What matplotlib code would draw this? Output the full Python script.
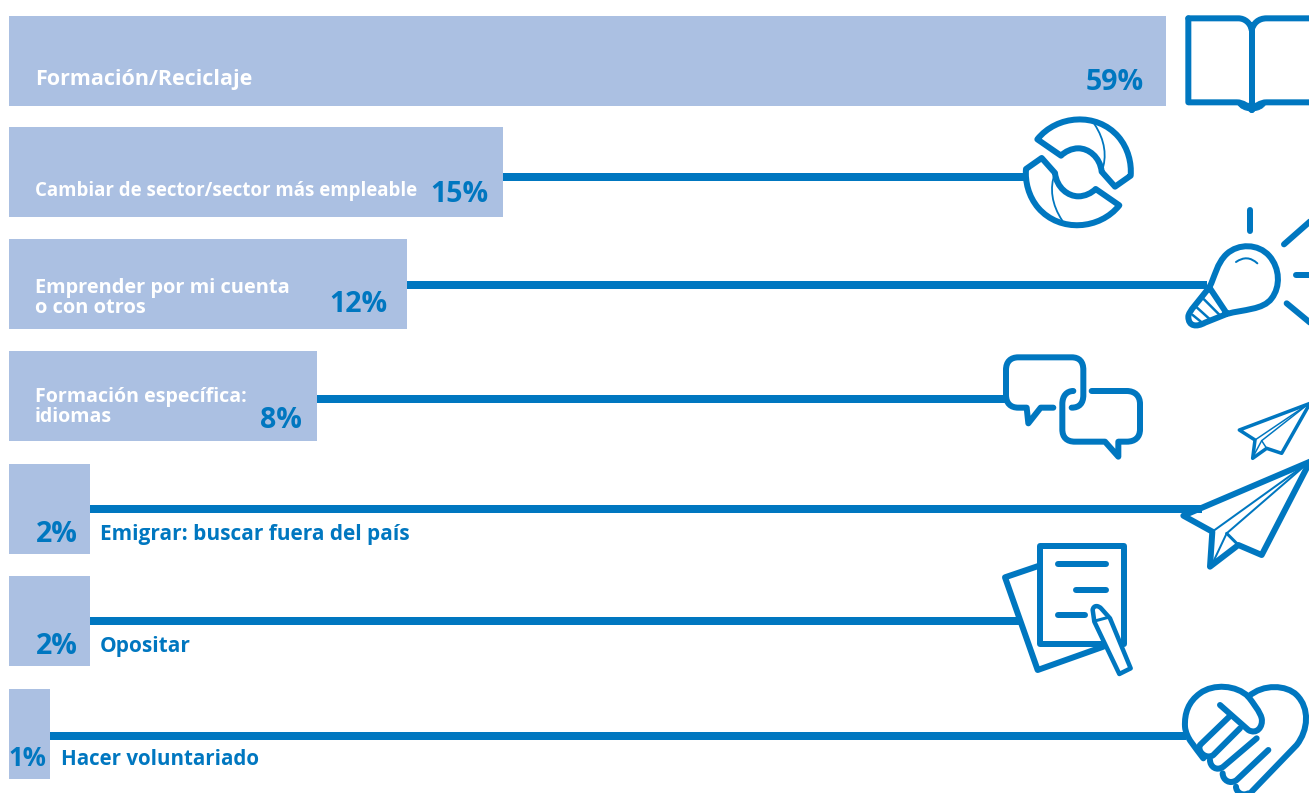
import re
import matplotlib
matplotlib.use('Agg')
import matplotlib.pyplot as plt
from matplotlib.path import Path
from matplotlib.patches import PathPatch

# labels / values
labels = ['Formación/Reciclaje', 'Cambiar de sector/sector más empleable',
          'Emprender por mi cuenta\no con otros', 'Formación específica:\nidiomas',
          'Emigrar: buscar fuera del país', 'Opositar', 'Hacer voluntariado']
percents = [59, 15, 12, 8, 2, 2, 1]
# the bars are not to scale in the original, so their drawn length is read separately
bar_lengths = [1157, 494, 398, 308, 81, 81, 41]
row_centers = [61, 172, 284, 396, 509, 621, 734]
line_y = [None, 176.5, 284.5, 398.5, 508.5, 620.5, 735.5]
line_end = [None, 1026, 1207, 1006, 1202, 1019, 1186]

BLUE = '#0077c0'
BAR = '#abc0e2'
FONT = 'Open Sans'
PX = 0.72

fig = plt.figure(figsize=(13.09, 7.93), dpi=100)
ax = fig.add_axes([0, 0, 1, 1])
ax.set_xlim(0, 1309)
ax.set_ylim(793, 0)
ax.axis('off')

ax.barh(row_centers, bar_lengths, height=90, left=9, color=BAR, zorder=1)

for i in range(1, 7):
    ax.plot([9 + bar_lengths[i], line_end[i]], [line_y[i], line_y[i]], color=BLUE,
            lw=8 * PX, solid_capstyle='butt', zorder=2)

# text inside the bars
ax.text(35, 80, labels[0], color='white', fontsize=15.5, fontweight='bold', family=FONT, va='center')
ax.text(35, 191, labels[1], color='white', fontsize=13.4, fontweight='bold', family=FONT, va='center')
ax.text(35, 298, labels[2], color='white', fontsize=14.4, fontweight='bold', family=FONT, va='center', linespacing=0.95)
ax.text(35, 407, labels[3], color='white', fontsize=14.1, fontweight='bold', family=FONT, va='center', linespacing=0.98)
# text next to the short bars
ax.text(100, 534.5, labels[4], color=BLUE, fontsize=15, fontweight='bold', family=FONT, va='center')
ax.text(100, 646.5, labels[5], color=BLUE, fontsize=15, fontweight='bold', family=FONT, va='center')
ax.text(61, 759.5, labels[6], color=BLUE, fontsize=14.8, fontweight='bold', family=FONT, va='center')

pct_right = [1144, 488, 387, 302, 78, 78, 46]
pct_y = [83, 195, 304, 420, 534, 646, 759]
pct_size = [20.5, 20.5, 20.5, 20.5, 20.5, 20.5, 18.5]
for p, xr, y, s in zip(percents, pct_right, pct_y, pct_size):
    ax.text(xr, y, str(p) + '%', color=BLUE, fontsize=s, fontweight='bold', family=FONT,
            ha='right', va='center')


def svg(d, ox, oy, lw=6, fill='none', z=3):
    # small svg-like path parser, coords come from the 3x zoom crops
    toks = re.findall(r'[MLCQZ]|-?\d+\.?\d*', d)
    verts, codes = [], []
    i = 0
    nargs = {'M': (1, Path.MOVETO), 'L': (1, Path.LINETO), 'Q': (2, Path.CURVE3), 'C': (3, Path.CURVE4)}
    while i < len(toks):
        c = toks[i]
        i += 1
        if c == 'Z':
            verts.append((0, 0))
            codes.append(Path.CLOSEPOLY)
            continue
        n, code = nargs[c]
        for _ in range(n):
            verts.append((ox + float(toks[i]) / 3, oy + float(toks[i + 1]) / 3))
            codes.append(code)
            i += 2
    ax.add_patch(PathPatch(Path(verts, codes), fc=fill, ec=BLUE, lw=lw * PX, zorder=z,
                           capstyle='round', joinstyle='round'))


# book
svg('M 565 55 L 715 55 C 735 55 752 70 755 90 C 760 70 775 55 800 55 L 935 55', 1000, 0)
svg('M 565 55 L 565 307 L 710 307 C 730 307 745 320 755 330 C 765 320 780 307 800 307 L 935 307', 1000, 0)
svg('M 755 85 L 755 330', 1000, 0)
svg('M 712 310 C 725 340 785 340 798 310 Z', 1000, 0, fill=BLUE, lw=1)

# arrows in a circle
svg('M 112 418 C 170 345 290 335 355 410 C 385 445 395 490 392 527 L 345 560 L 305 515 '
    'C 300 470 265 445 235 445 C 215 445 195 455 183 467 Z', 1000, 0)
svg('M 358 616 C 300 689 180 699 115 624 C 85 589 75 544 78 507 L 125 474 L 165 519 '
    'C 170 564 205 589 235 589 C 255 589 275 579 287 567 Z', 1000, 0)
svg('M 283 372 C 315 420 322 470 305 515', 1000, 0, lw=1.8)
svg('M 187 662 C 155 614 148 564 165 519', 1000, 0, lw=1.8)

# light bulb
svg('M 680 940 L 628 862 C 645 830 650 790 680 762 C 715 730 775 730 808 768 '
    'C 840 805 842 860 815 895 C 790 930 730 928 680 942 L 615 968 C 590 982 565 980 565 950 '
    'C 565 935 595 905 628 862', 1000, 0)
svg('M 612 898 L 660 946', 1000, 0, lw=2.5)
svg('M 590 922 L 632 960', 1000, 0, lw=2.5)
svg('M 578 945 L 605 967', 1000, 0, lw=2.5)
svg('M 708 786 Q 742 762 772 790', 1000, 0, lw=2)
svg('M 750 630 L 750 693', 1000, 0)
svg('M 852 733 L 935 660', 1000, 0)
svg('M 887 825 L 935 825', 1000, 0)
svg('M 860 910 L 935 972', 1000, 0)

# speech bubbles
svg('M 160 203 L 122 203 L 85 250 L 80 203 L 55 203 C 32 203 18 190 18 165 L 18 90 C 18 65 32 52 55 52 '
    'L 215 52 C 238 52 250 65 250 90 L 250 165 C 250 190 238 203 215 203', 1000, 340)
svg('M 275 153 L 380 153 C 405 153 420 168 420 192 L 420 268 C 420 292 405 305 380 305 L 355 305 '
    'L 355 350 L 315 305 L 225 305 C 200 305 187 292 187 268 L 187 192 C 187 168 200 153 220 153', 1000, 340)

# paper planes
svg('M 930 190 L 718 270 L 765 300 L 758 355 L 800 325 L 845 340 Z', 1000, 340, lw=3.5)
svg('M 765 300 L 925 192', 1000, 340, lw=1.5)
svg('M 785 302 L 925 192', 1000, 340, lw=1.5)
svg('M 785 302 L 800 325', 1000, 340, lw=1.5)
svg('M 785 302 L 762 345', 1000, 340, lw=1.5)
svg('M 930 365 L 550 527 L 637 575 L 630 680 L 715 615 L 785 645 Z', 1000, 340)
svg('M 637 575 L 925 368', 1000, 340, lw=2)
svg('M 680 580 L 925 368', 1000, 340, lw=2)
svg('M 680 580 L 715 615', 1000, 340, lw=3)
svg('M 680 580 L 640 665', 1000, 340, lw=2)

# papers and pencil
svg('M 115 108 L 15 142 L 113 420 L 310 350', 1000, 530)
svg('M 120 48 L 372 48 L 372 342 L 120 342 Z', 1000, 530)
svg('M 175 103 L 318 103', 1000, 530)
svg('M 228 180 L 318 180', 1000, 530)
svg('M 175 255 L 255 255', 1000, 530)
svg('M 283 275 L 278 240 C 280 225 295 225 305 237 L 330 265 L 392 415 L 358 432 Z', 1000, 530, lw=4.5, fill='white', z=4)
svg('M 288 272 L 325 262', 1000, 530, lw=3, z=5)

# heart with handshake
svg('M 745 500 C 710 465 640 460 600 490 C 565 515 553 550 555 590 C 558 625 585 650 610 685', 1000, 530)
svg('M 745 500 C 790 460 860 465 890 495 C 930 535 925 600 890 645 L 755 785', 1000, 530)
svg('M 660 525 L 745 600 C 770 615 790 590 785 565 C 780 545 760 520 745 500', 1000, 530)
svg('M 690 558 L 600 645 C 590 665 620 690 640 675 L 720 595', 1000, 530)
svg('M 630 690 C 630 710 650 725 670 710 L 770 625', 1000, 530)
svg('M 668 730 C 668 750 690 765 710 750 L 805 660', 1000, 530)
svg('M 708 770 C 708 785 725 800 745 790', 1000, 530)

fig.savefig('out.png', dpi=100)
